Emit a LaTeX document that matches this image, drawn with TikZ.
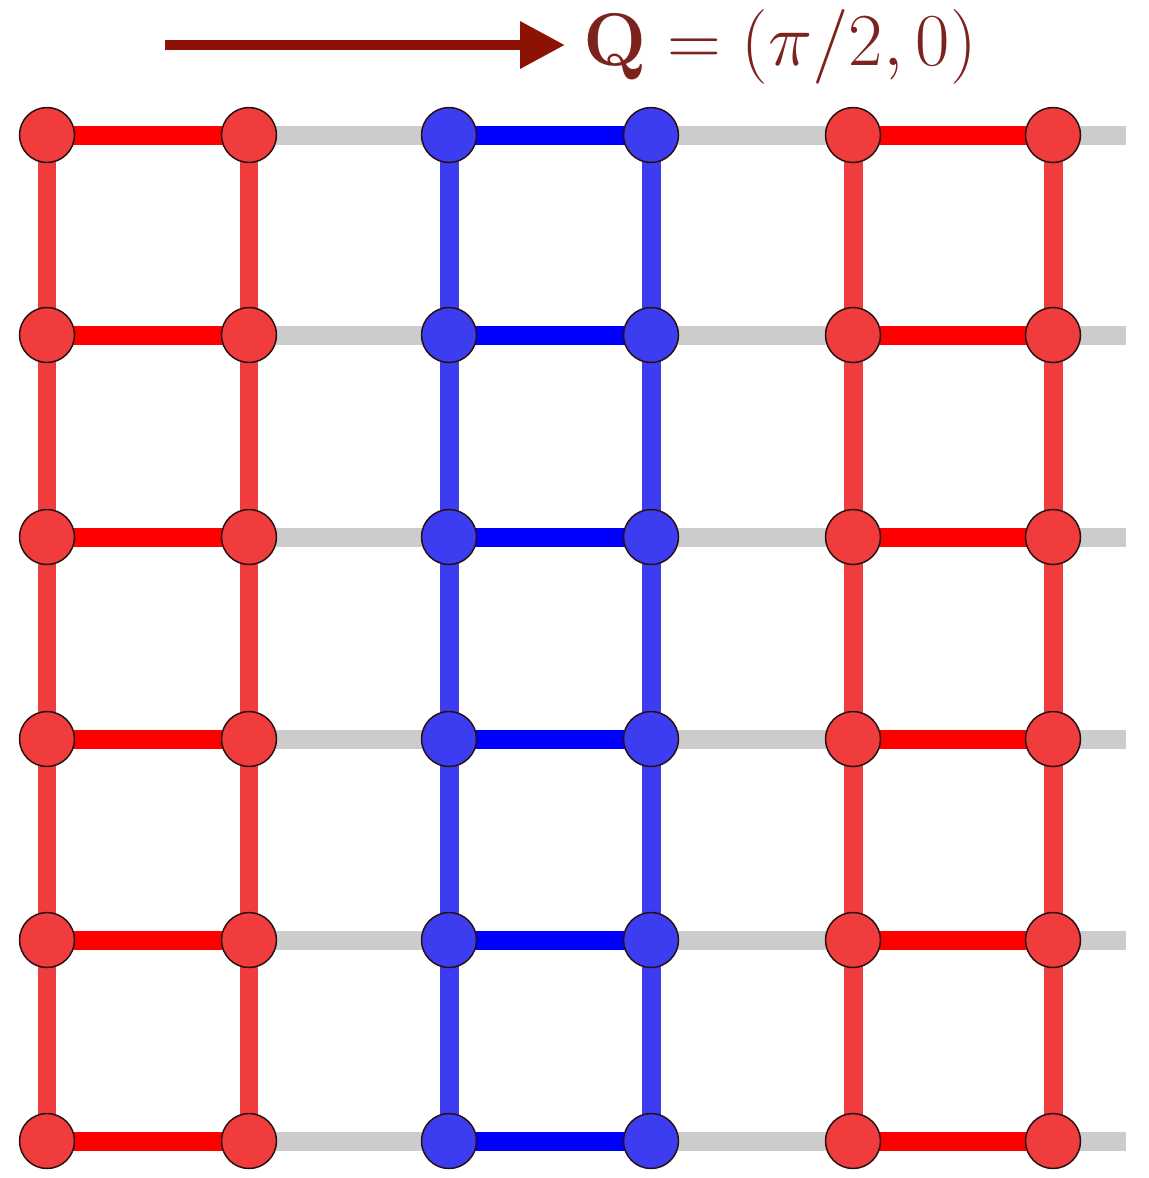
\documentclass[tikz,border=0pt]{standalone}
\usepackage{fix-cm}
\usetikzlibrary{arrows.meta,backgrounds}
\definecolor{nred}{RGB}{240,60,60}
\definecolor{nblue}{RGB}{60,60,240}
\definecolor{hred}{RGB}{255,0,0}
\definecolor{hblue}{RGB}{0,0,255}
\definecolor{bondgray}{RGB}{204,204,204}
\definecolor{arrowred}{RGB}{139,18,4}
\definecolor{textred}{RGB}{125,35,30}
\definecolor{rimcol}{RGB}{40,16,16}
\begin{document}
\begin{tikzpicture}[x=0.02cm,y=-0.02cm,
  site/.style={circle,draw=rimcol,line width=0.03cm,minimum size=1.1cm,inner sep=0pt},
  bond/.style={line width=0.38cm,line cap=butt},
  qarrow/.style={arrowred,line width=0.2cm,-{Triangle[length=0.9cm,width=0.9cm]}},
  qlabel/.style={textred,inner sep=0pt,anchor=base west,font=\fontsize{42.5}{50}\selectfont}]
\useasboundingbox (0,0) rectangle (1149,1178);
% sites
\foreach \c/\x/\col in {1/47/nred,2/249/nred,3/449/nblue,4/651/nblue,5/853/nred,6/1053/nred}{
  \foreach \r/\y in {1/135,2/335,3/537,4/739,5/940,6/1141}{
    \node[site,fill=\col] (n\c\r) at (\x,\y) {};
  }
}
\foreach \r/\y in {1/135,2/335,3/537,4/739,5/940,6/1141}{
  \coordinate (t\r) at (1126,\y);
}
\begin{scope}[on background layer]
  % gray bonds
  \foreach \r in {1,...,6}{
    \draw[bond,bondgray] (n2\r.center) -- (n3\r.center);
    \draw[bond,bondgray] (n4\r.center) -- (n5\r.center);
    \draw[bond,bondgray] (n6\r.center) -- (t\r);
  }
  % vertical bonds
  \foreach \c/\col in {1/nred,2/nred,3/nblue,4/nblue,5/nred,6/nred}{
    \draw[bond,\col] (n\c1.center) -- (n\c6.center);
  }
  % horizontal coloured bonds
  \foreach \r in {1,...,6}{
    \draw[bond,hred] (n1\r.center) -- (n2\r.center);
    \draw[bond,hblue] (n3\r.center) -- (n4\r.center);
    \draw[bond,hred] (n5\r.center) -- (n6\r.center);
  }
\end{scope}
% wave vector
\node[qlabel] (q) at (583,65) {$\mathbf{Q}=(\pi/2,0)$};
\coordinate (a0) at (165,45);
\coordinate (a1) at (565,45);
\draw[qarrow] (a0) -- (a1);
\end{tikzpicture}
\end{document}
